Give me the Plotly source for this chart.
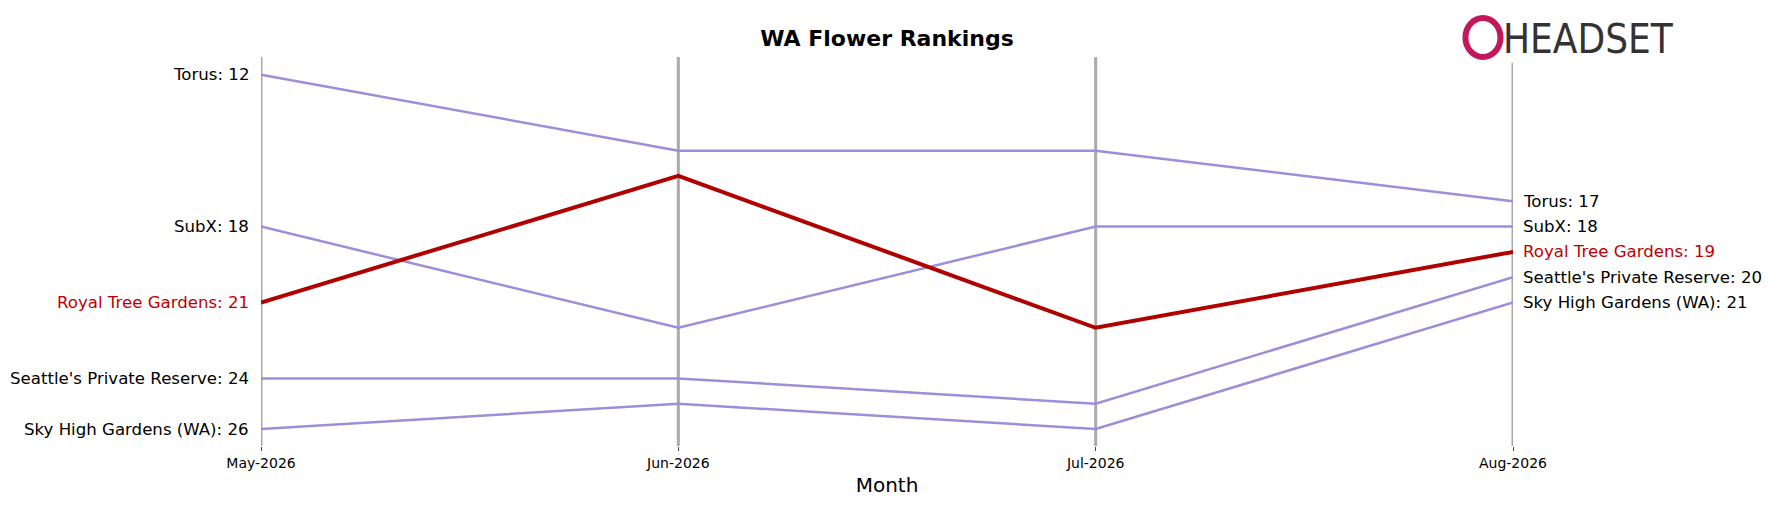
import plotly.graph_objects as go

months = ["May-2026", "Jun-2026", "Jul-2026", "Aug-2026"]
brands = ["Torus", "SubX", "Royal Tree Gardens", "Seattle's Private Reserve", "Sky High Gardens (WA)"]
ranks = {
    "Torus": [12, 15, 15, 17],
    "SubX": [18, 22, 18, 18],
    "Royal Tree Gardens": [21, 16, 22, 19],
    "Seattle's Private Reserve": [24, 24, 25, 20],
    "Sky High Gardens (WA)": [26, 25, 26, 21],
}
highlight = "Royal Tree Gardens"

fig = go.Figure()
xs = list(range(len(months)))
for i in xs:
    fig.add_shape(type="line", x0=i, x1=i, y0=0, y1=1.0 if i < 3 else 0.985, yref="paper",
                  line=dict(color="#aaaaaa", width=3), layer="below")
for b in brands:
    hl = b == highlight
    fig.add_trace(go.Scatter(x=xs, y=ranks[b], mode="lines",
                             line=dict(color="#b00000" if hl else "#9b8fd9", width=4 if hl else 2.5),
                             showlegend=False))
for b in brands:
    hl = b == highlight
    col = "#c00000" if hl else "black"
    fig.add_annotation(x=0, y=ranks[b][0], text=f"{b}: {ranks[b][0]}", xanchor="right", xshift=-10,
                       showarrow=False, font=dict(size=16.6, color=col))
    fig.add_annotation(x=3, y=ranks[b][3], text=f"{b}: {ranks[b][3]}", xanchor="left", xshift=8,
                       showarrow=False, font=dict(size=16.6, color=col))

fig.add_annotation(xref="paper", yref="paper", x=1.06, y=1.11, text="HEADSET", showarrow=False,
                   font=dict(size=40, color="#333333", family="DejaVu Sans Condensed"), xanchor="center")
# logo mark
fig.add_shape(type="circle", xref="paper", yref="paper", x0=0.962, x1=0.99, y0=1.0, y1=1.1,
              line=dict(color="#c2185b", width=6))

fig.update_layout(
    width=1771, height=506, plot_bgcolor="white", paper_bgcolor="white",
    margin=dict(l=253, r=266, t=49, b=68),
    font=dict(family="DejaVu Sans"),
    title=dict(text="<b>WA Flower Rankings</b>", x=0.5, xref="paper", y=0.955, font=dict(size=22, color="black")),
    xaxis=dict(range=[0, 3], tickvals=xs, ticktext=months, showgrid=False, zeroline=False,
               ticks="outside", ticklen=4, tickfont=dict(size=14, color="black"),
               title=dict(text="Month", font=dict(size=20, color="black"), standoff=8)),
    yaxis=dict(range=[26.67, 11.3], visible=False),
)
fig.write_html("out.html")
